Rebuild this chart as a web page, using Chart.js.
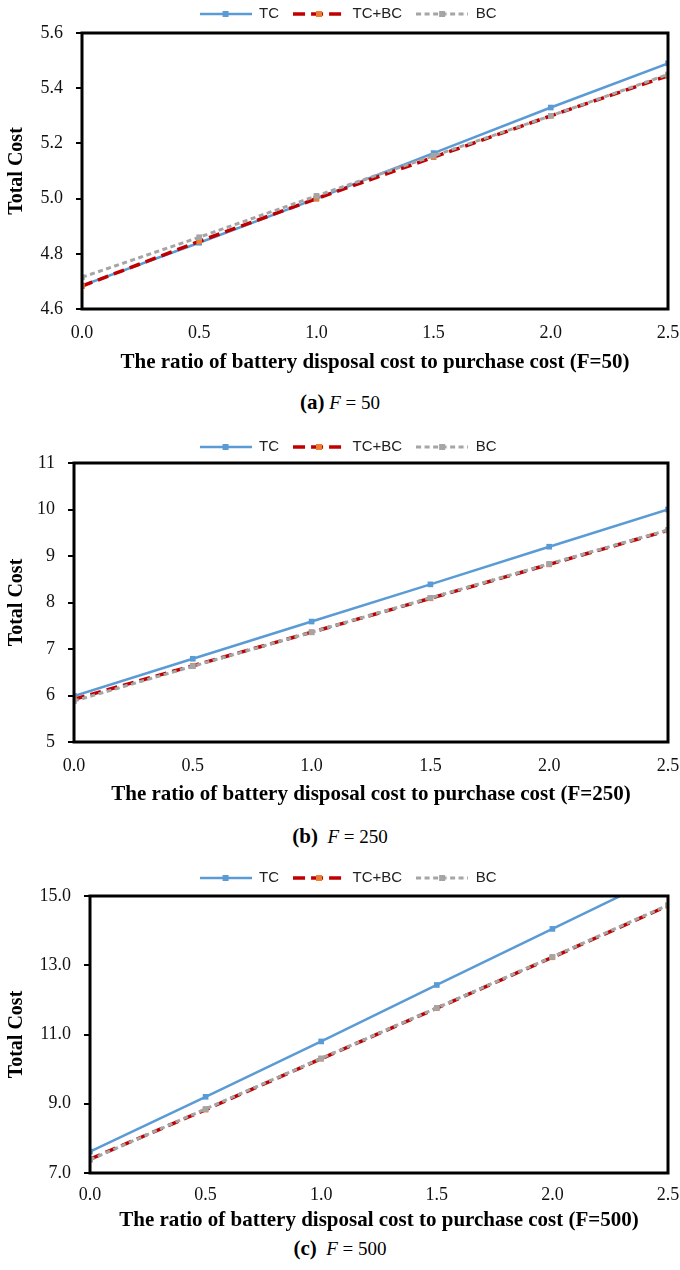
<!DOCTYPE html>
<html><head><meta charset="utf-8">
<script src="https://cdn.jsdelivr.net/npm/chart.js@4/dist/chart.umd.min.js"></script>
<style>
html,body{margin:0;padding:0;background:#fff;}
body{width:680px;height:1270px;position:relative;overflow:hidden;}
.wrap{position:absolute;left:0;width:680px;}
.cap{position:absolute;left:0;width:680px;text-align:center;font-family:"Liberation Serif","Times New Roman",serif;font-size:19px;line-height:22px;color:#000;}
.cap b{font-size:21px;}
.cap i{font-style:italic;}
</style></head><body>
<div class="wrap" style="top:0px"><canvas id="ca" width="680" height="376"></canvas></div>
<div class="cap" style="top:391px"><b>(a)</b> <i>F</i> = 50</div>
<div class="wrap" style="top:430px"><canvas id="cb" width="680" height="378"></canvas></div>
<div class="cap" style="top:825px"><b>(b)</b>&nbsp; <i>F</i> = 250</div>
<div class="wrap" style="top:860px"><canvas id="cc" width="680" height="374"></canvas></div>
<div class="cap" style="top:1237px"><b>(c)</b>&nbsp; <i>F</i> = 500</div>
<script>
// ---- data ----
const xValues = [0, 0.5, 1.0, 1.5, 2.0, 2.5];
const seriesNames = ['TC', 'TC+BC', 'BC'];

const tcA   = [4.685, 4.840, 5.000, 5.165, 5.330, 5.490];
const tcbcA = [4.683, 4.845, 5.000, 5.150, 5.300, 5.445];
const bcA   = [4.715, 4.860, 5.010, 5.155, 5.300, 5.450];

const tcB   = [5.99, 6.79, 7.59, 8.39, 9.20, 10.00];
const tcbcB = [5.92, 6.64, 7.36, 8.09, 8.82, 9.55];
const bcB   = [5.88, 6.63, 7.36, 8.10, 8.83, 9.56];

const tcC   = [7.62, 9.20, 10.80, 12.43, 14.05, 15.67];
const tcbcC = [7.40, 8.83, 10.30, 11.76, 13.23, 14.72];
const bcC   = [7.38, 8.85, 10.31, 11.77, 13.24, 14.74];

const yTicksA = [4.6, 4.8, 5.0, 5.2, 5.4, 5.6];
const yTicksB = [5, 6, 7, 8, 9, 10, 11];
const yTicksC = [7.0, 9.0, 11.0, 13.0, 15.0];
const xTitleA = 'The ratio of battery disposal cost to purchase cost (F=50)';
const xTitleB = 'The ratio of battery disposal cost to purchase cost (F=250)';
const xTitleC = 'The ratio of battery disposal cost to purchase cost (F=500)';
const yTitle = 'Total Cost';

// ---- styles ----
const BLUE = '#5B9BD5', RED = '#C00000', ORANGE = '#ED7D31', GREY = '#A5A5A5';
const SERIF = '"Liberation Serif","Times New Roman",serif';
const NARROW = '"Liberation Sans Narrow","Liberation Sans",Arial,sans-serif';

function legendIcon(color, markerColor, dash, width) {
  const c = document.createElement('canvas');
  c.width = 52; c.height = 10;
  const g = c.getContext('2d');
  g.strokeStyle = color; g.lineWidth = width; g.setLineDash(dash);
  g.beginPath(); g.moveTo(0, 5); g.lineTo(52, 5); g.stroke();
  g.fillStyle = markerColor; g.fillRect(23, 2, 6, 6);
  return c;
}
const icons = [
  legendIcon(BLUE, BLUE, [], 2.5),
  legendIcon(RED, ORANGE, [12, 6], 3.5),
  legendIcon(GREY, GREY, [5, 3.5], 3)
];

const framePlugin = {
  id: 'frame',
  afterDatasetsDraw(chart) {
    const {ctx, chartArea: a} = chart;
    ctx.save();
    ctx.strokeStyle = '#000'; ctx.lineWidth = 3;
    ctx.strokeRect(a.left, a.top, a.right - a.left, a.bottom - a.top);
    ctx.restore();
  }
};

function makeChart(id, cfg) {
  const LEG_P = 14, LEG_FS = 15;
  const legendPlugin = {
    id: 'legendFix',
    afterInit(chart) {
      const lg = chart.legend;
      const fit0 = lg.fit.bind(lg);
      lg.fit = function () { fit0(); this.height = cfg.plotTop; };
      const draw0 = lg.draw.bind(lg);
      lg.draw = function () {
        const t = this.top, l = this.left, r = this.right;
        this.top = t + (cfg.legendY - (LEG_P + LEG_FS / 2));
        this.left = l + 14; this.right = r + 14;
        draw0();
        this.top = t; this.left = l; this.right = r;
      };
    }
  };
  const mk = (vals) => xValues.map((x, i) => ({x: x, y: vals[i]}));
  const datasets = [
    {label: seriesNames[0], data: mk(cfg.tc), borderColor: BLUE, backgroundColor: BLUE,
     borderWidth: 2.5, pointStyle: 'rect', pointRadius: 4, pointBorderWidth: 0,
     pointBackgroundColor: BLUE, order: 2},
    {label: seriesNames[1], data: mk(cfg.tcbc), borderColor: RED, backgroundColor: ORANGE,
     borderWidth: 3.5, borderDash: [11, 6], pointStyle: 'rect', pointRadius: 4, pointBorderWidth: 0,
     pointBackgroundColor: ORANGE, order: 1},
    {label: seriesNames[2], data: mk(cfg.bc), borderColor: GREY, backgroundColor: GREY,
     borderWidth: 3, borderDash: [5, 3.5], pointStyle: 'rect', pointRadius: 4, pointBorderWidth: 0,
     pointBackgroundColor: GREY, order: 0}
  ];
  const H = cfg.height;
  return new Chart(document.getElementById(id), {
    type: 'line',
    data: {datasets},
    plugins: [legendPlugin, framePlugin],
    options: {
      responsive: false, animation: false, devicePixelRatio: 1,
      layout: {padding: {left: 0, right: 680 - cfg.plotRight, top: 0, bottom: 0}},
      plugins: {
        tooltip: {enabled: false},
        legend: {
          display: true, position: 'top',
          labels: {
            usePointStyle: true, pointStyleWidth: 52, padding: LEG_P,
            font: {family: NARROW, size: LEG_FS}, color: '#222',
            generateLabels: (chart) => chart.data.datasets.map((ds, i) => ({
              text: ds.label, pointStyle: icons[i], datasetIndex: i, hidden: false,
              fillStyle: '#000', strokeStyle: '#000', lineWidth: 0, fontColor: '#222'
            }))
          }
        }
      },
      scales: {
        x: {
          type: 'linear', min: 0, max: 2.5,
          border: {display: false},
          grid: {display: false, drawTicks: false},
          afterBuildTicks: (s) => { s.ticks = xValues.map(v => ({value: v})); },
          ticks: {font: {family: SERIF, size: 18}, color: '#111', padding: cfg.xTickPad,
                  callback: (v) => Number(v).toFixed(1), maxRotation: 0, autoSkip: false},
          title: {display: true, text: cfg.xTitle, color: '#000',
                  font: {family: SERIF, size: 21, weight: 'bold'}, padding: {top: 0, bottom: 1}},
          afterFit: (s) => { s.height = H - cfg.plotBottom; s.paddingLeft = 0; s.paddingRight = 0; }
        },
        y: {
          type: 'linear', min: cfg.yTicks[0], max: cfg.yTicks[cfg.yTicks.length - 1],
          border: {display: false},
          grid: {display: true, drawOnChartArea: false, drawTicks: true, tickLength: 6,
                 color: '#000', lineWidth: 2},
          afterBuildTicks: (s) => { s.ticks = cfg.yTicks.map(v => ({value: v})); },
          ticks: {font: {family: SERIF, size: 18}, color: '#111', padding: 13,
                  callback: (v) => Number(v).toFixed(cfg.dec), autoSkip: false},
          title: {display: true, text: yTitle, color: '#000',
                  font: {family: SERIF, size: 20, weight: 'bold'}, padding: {top: 5, bottom: 0}},
          afterFit: (s) => { s.width = cfg.plotLeft; }
        }
      }
    }
  });
}

makeChart('ca', {tc: tcA, tcbc: tcbcA, bc: bcA, yTicks: yTicksA, dec: 1, xTitle: xTitleA,
  height: 376, legendY: 14, plotTop: 33, plotBottom: 309, plotLeft: 82, plotRight: 668, xTickPad: 13});
makeChart('cb', {tc: tcB, tcbc: tcbcB, bc: bcB, yTicks: yTicksB, dec: 0, xTitle: xTitleB,
  height: 378, legendY: 17, plotTop: 33, plotBottom: 312, plotLeft: 74, plotRight: 668, xTickPad: 13});
makeChart('cc', {tc: tcC, tcbc: tcbcC, bc: bcC, yTicks: yTicksC, dec: 1, xTitle: xTitleC,
  height: 374, legendY: 18, plotTop: 36, plotBottom: 313, plotLeft: 90, plotRight: 668, xTickPad: 11});
</script>
</body></html>
